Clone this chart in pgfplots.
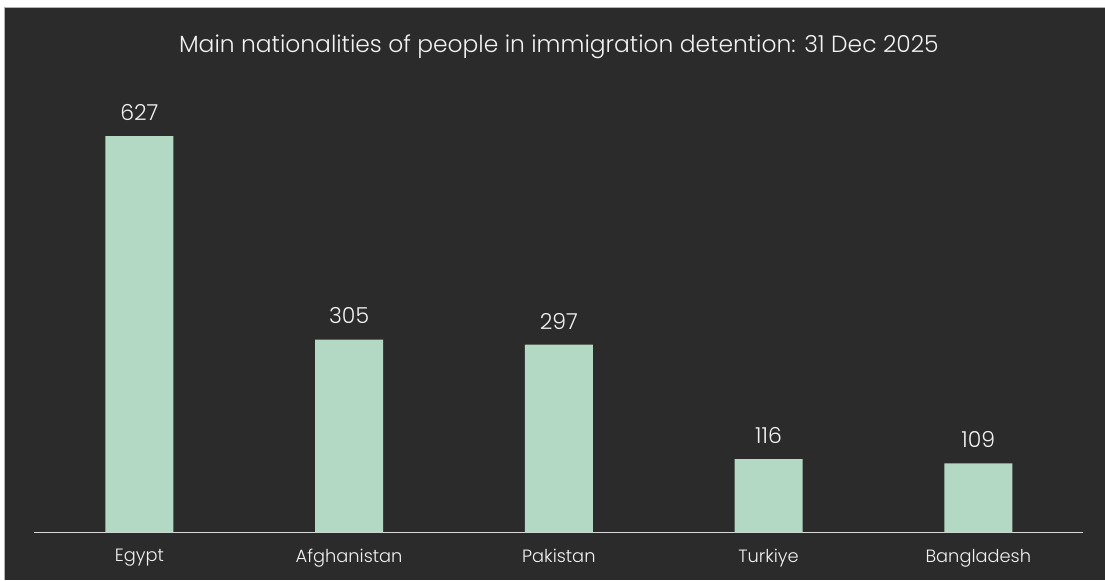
\documentclass[border=0pt]{standalone}
\usepackage{pgfplots}
\pgfplotsset{compat=1.18}
\usepackage{fontspec}
\setmainfont{Poppins}[UprightFont=* Light]
\definecolor{bg}{HTML}{2B2B2B}
\definecolor{barc}{HTML}{B3D8C3}
\definecolor{txt}{HTML}{F2F2F2}
\definecolor{linec}{HTML}{D9D9D9}
\begin{document}
\begin{tikzpicture}[x=1pt,y=1pt]
\fill[white] (0,0) rectangle (1105,580);
\fill[bg] (4,0) rectangle (1105,573);
\draw[gray!60,line width=0.6pt] (4,0) -- (4,573) -- (1105,573);
\node[text=txt,font=\fontsize{23.4}{28}\selectfont] at (559,533) {Main nationalities of people in immigration detention: 31 Dec 2025};
\begin{axis}[
  at={(34.5pt,47.5pt)}, anchor=south west,
  scale only axis, width=1049pt, height=432pt,
  xmin=-0.5, xmax=4.5, ymin=0, ymax=683.5,
  axis y line=none, axis x line*=bottom,
  x axis line style={draw=linec, line width=1.6pt, -},
  xtick={0,1,2,3,4},
  xticklabels={Egypt,Afghanistan,Pakistan,Turkiye,Bangladesh},
  major tick length=0pt,
  xticklabel style={text=txt, font=\fontsize{17.8}{21}\selectfont, yshift=-13pt},
  ybar, bar width=68pt,
  /pgf/number format/assume math mode=true,
  nodes near coords,
  nodes near coords style={text=txt, font=\fontsize{22}{26}\selectfont, anchor=south, yshift=12pt},
  clip=false,
]
\addplot[fill=barc, draw=none] coordinates {(0,627) (1,305) (2,297) (3,116) (4,109)};
\end{axis}
\end{tikzpicture}
\end{document}
